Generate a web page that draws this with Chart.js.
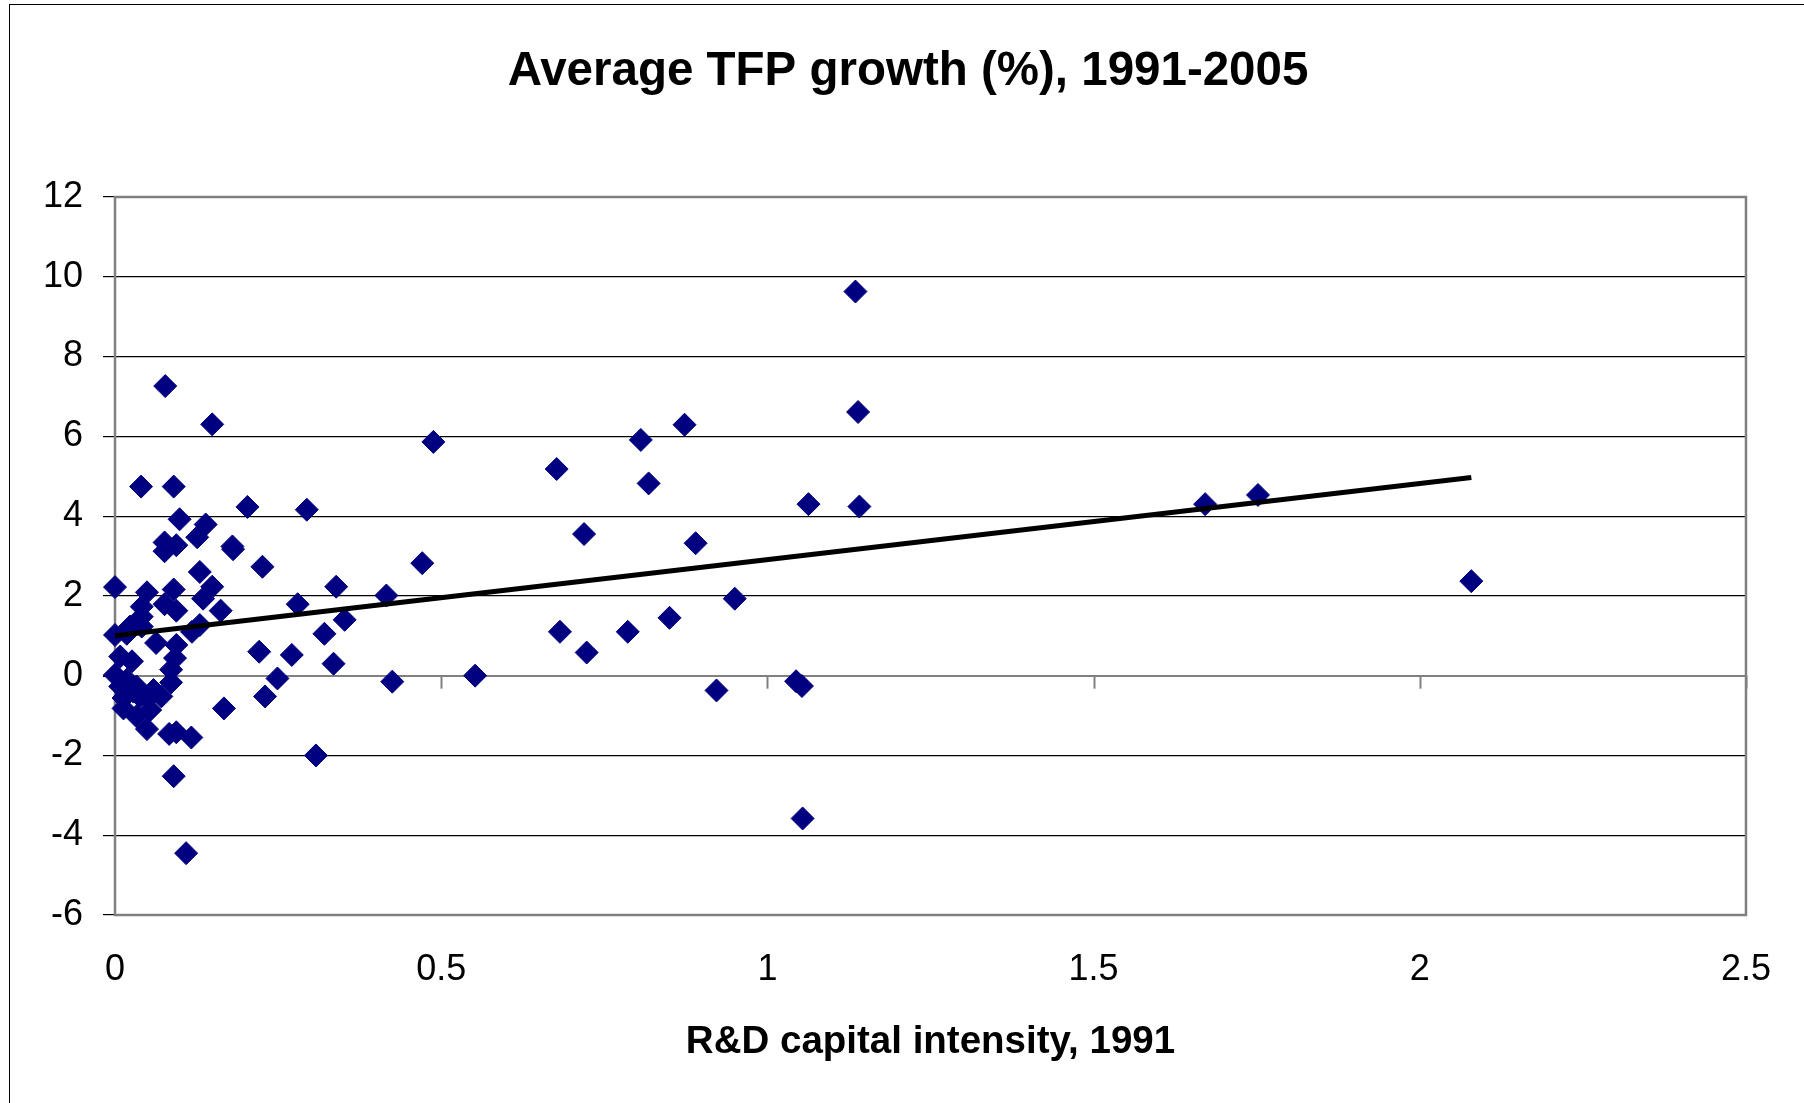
<!DOCTYPE html>
<html>
<head>
<meta charset="utf-8">
<script src="https://cdn.jsdelivr.net/npm/chart.js@4.4.0/dist/chart.umd.min.js"></script>
<style>
  html, body { margin: 0; padding: 0; background: #fff; overflow: hidden; }
  #wrap { position: relative; width: 1804px; height: 1103px; }
</style>
</head>
<body>
<div id="wrap"><canvas id="chart_tfp"></canvas></div>
<script>
/* ------------------
  data
-------------------*/
var rdIntensity = [
  0.000, 0.000, 0.000, 0.008, 0.008, 0.013, 0.013, 0.018, 0.018, 0.023,
  0.026, 0.028, 0.033, 0.033, 0.038, 0.040, 0.041, 0.041, 0.041, 0.049,
  0.049, 0.051, 0.054, 0.059, 0.063, 0.071, 0.076, 0.076, 0.076, 0.077,
  0.083, 0.086, 0.086, 0.090, 0.090, 0.090, 0.092, 0.094, 0.094, 0.094,
  0.094, 0.099, 0.109, 0.117, 0.118, 0.126, 0.130, 0.130, 0.135, 0.139,
  0.149, 0.149, 0.162, 0.167, 0.180, 0.181, 0.203, 0.221, 0.226, 0.230,
  0.249, 0.271, 0.280, 0.294, 0.308, 0.321, 0.335, 0.339, 0.352, 0.416,
  0.425, 0.471, 0.488, 0.552, 0.677, 0.682, 0.719, 0.723, 0.786, 0.806,
  0.818, 0.850, 0.873, 0.890, 0.922, 0.950, 1.044, 1.053, 1.054, 1.063,
  1.135, 1.139, 1.141, 1.671, 1.752, 2.079
];
var tfpGrowth = [
  2.22, 1.02, 0.02, 0.48, -0.27, -0.56, -0.82, 1.05, -0.10, 1.23,
  0.36, -0.40, -1.02, -0.27, -0.52, 4.74, 1.73, 1.48, 1.23, 2.09,
  -1.34, -0.56, -0.86, -0.36, 0.82, -0.52, 1.79, 3.34, 3.12, 7.26,
  -1.46, 0.15, -0.17, 4.74, 2.16, -2.52, 0.44, 3.27, 1.63, 0.77,
  -1.42, 3.92, -4.45, -1.55, 1.10, 3.47, 2.60, 1.27, 1.93, 3.79,
  6.30, 2.23, 1.63, -0.82, 3.24, 3.17, 4.23, 0.60, 2.73, -0.52,
  -0.07, 0.52, 1.79, 4.16, -2.00, 1.05, 0.30, 2.23, 1.40, 2.01,
  -0.15, 2.82, 5.86, 0.00, 5.18, 1.10, 3.55, 0.58, 1.10, 5.91,
  4.82, 1.45, 6.29, 3.32, -0.37, 1.93, -0.14, -0.26, -3.58, 4.30,
  9.63, 6.61, 4.24, 4.30, 4.53, 2.37
];
// linear trend, end points as drawn
var trendX = [0, 2.079];
var trendY = [1.00, 4.97];

var xTicks = [0, 0.5, 1, 1.5, 2, 2.5];
var yTicks = [-6, -4, -2, 0, 2, 4, 6, 8, 10, 12];

var points = rdIntensity.map(function (x, i) { return {x: x, y: tfpGrowth[i]}; });
var trend = trendX.map(function (x, i) { return {x: x, y: trendY[i]}; });

Chart.defaults.font.family = "'Liberation Sans', Arial, sans-serif";
Chart.defaults.color = '#000';

// plot frame, outer border and the small ticks on the zero line
var framePlugin = {
  id: 'frame',
  beforeDraw: function (chart) {
    var ctx = chart.ctx;
    ctx.save();
    ctx.strokeStyle = '#000';
    ctx.lineWidth = 1;
    ctx.strokeRect(9.5, 4.5, 3000, 3000);
    ctx.restore();
  },
  beforeDatasetsDraw: function (chart) {
    var ctx = chart.ctx, a = chart.chartArea;
    var xs = chart.scales.x, ys = chart.scales.y;
    ctx.save();
    ctx.strokeStyle = '#808080';
    ctx.lineWidth = 2.5;
    ctx.strokeRect(a.left, a.top, a.right - a.left, a.bottom - a.top);
    var y0 = ys.getPixelForValue(0);
    ctx.lineWidth = 2;
    xTicks.forEach(function (v) {
      var px = Math.round(xs.getPixelForValue(v)) + 0.5;
      ctx.beginPath();
      ctx.moveTo(px, y0);
      ctx.lineTo(px, y0 + 13);
      ctx.stroke();
    });
    ctx.restore();
  }
};

new Chart(document.getElementById('chart_tfp'), {
  type: 'scatter',
  data: {
    datasets: [
      {
        label: 'Trend',
        data: trend,
        showLine: true,
        borderColor: '#000',
        borderWidth: 5,
        pointRadius: 0,
        clip: false
      },
      {
        label: 'TFP growth',
        data: points,
        pointStyle: 'rectRot',
        pointRadius: 11.5,
        backgroundColor: '#000080',
        borderColor: '#000080',
        borderWidth: 1,
        clip: false
      }
    ]
  },
  plugins: [framePlugin],
  options: {
    responsive: true,
    maintainAspectRatio: false,
    animation: false,
    layout: { padding: { left: 12, right: 0, top: 0, bottom: 0 } },
    plugins: {
      legend: { display: false },
      tooltip: { enabled: false },
      title: {
        display: true,
        text: 'Average TFP growth (%), 1991-2005',
        font: { size: 47.5, weight: 'bold' },
        padding: { top: 43, bottom: 97 }
      }
    },
    scales: {
      x: {
        type: 'linear',
        min: 0,
        max: 2.5,
        afterBuildTicks: function (s) { s.ticks = xTicks.map(function (v) { return {value: v}; }); },
        afterFit: function (s) { s.height = 188; },
        grid: { display: false, drawTicks: false },
        border: { display: false },
        ticks: {
          font: { size: 36 },
          padding: 33,
          callback: function (v) { return String(v); }
        },
        title: {
          display: true,
          text: 'R&D capital intensity, 1991',
          font: { size: 38.5, weight: 'bold' },
          padding: { top: 0, bottom: 38 }
        }
      },
      y: {
        type: 'linear',
        min: -6,
        max: 12,
        afterBuildTicks: function (s) { s.ticks = yTicks.map(function (v) { return {value: v}; }); },
        afterFit: function (s) { s.width = 103; },
        grid: {
          color: function (c) { return c.tick && c.tick.value === 0 ? '#808080' : '#000'; },
          lineWidth: function (c) { return c.tick && c.tick.value === 0 ? 2 : 1.2; },
          tickColor: '#000',
          tickLength: 12
        },
        border: { display: false },
        ticks: { font: { size: 36 }, padding: 20 }
      },
      y2: {
        type: 'linear',
        position: 'right',
        grid: { display: false, drawTicks: false },
        border: { display: false },
        ticks: { display: false },
        afterFit: function (s) { s.width = 57.5; }
      }
    }
  }
});
</script>
</body>
</html>
